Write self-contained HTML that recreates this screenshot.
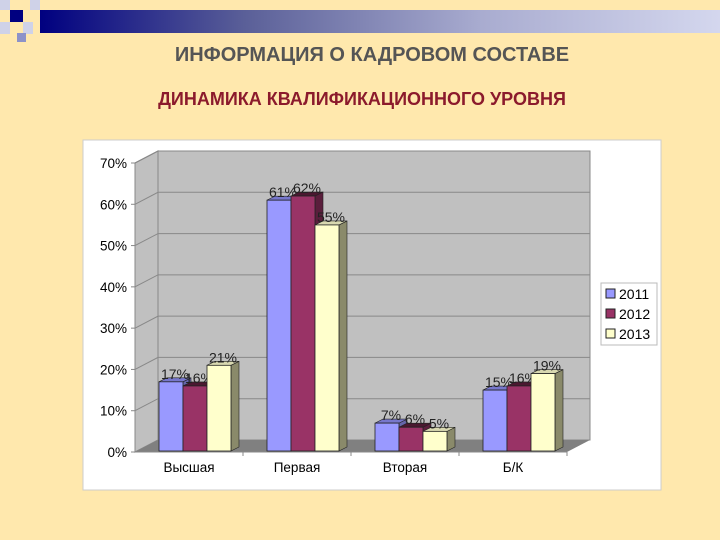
<!DOCTYPE html>
<html><head><meta charset="utf-8"><style>
body{margin:0;width:720px;height:540px;background:#ffe8ad;overflow:hidden;position:relative;font-family:"Liberation Sans",sans-serif}
.t{position:absolute;left:0;width:744px;text-align:center;font-weight:bold;white-space:nowrap}
</style></head><body>
<div style="position:absolute;left:40px;top:10px;width:680px;height:23px;background:linear-gradient(90deg,#000080,#5a5f98 30%,#a9acd0 65%,#d4d7ee)"></div>
<div style="position:absolute;left:10px;top:10px;width:13px;height:12px;background:#000080"></div>
<div style="position:absolute;left:0px;top:0px;width:10px;height:10px;background:#cfd2e8"></div>
<div style="position:absolute;left:30px;top:0px;width:10px;height:10px;background:#cfd2e8"></div>
<div style="position:absolute;left:0px;top:22px;width:10px;height:12px;background:#cfd2e8"></div>
<div style="position:absolute;left:23px;top:22px;width:10px;height:12px;background:#cfd2e8"></div>
<div style="position:absolute;left:17px;top:33px;width:9px;height:9px;background:#8d92c8"></div>
<div class="t" style="top:44px;font-size:20px;color:#555">ИНФОРМАЦИЯ О КАДРОВОМ СОСТАВЕ</div>
<div class="t" style="top:89px;left:-10px;font-size:18px;color:#8b1a2c">ДИНАМИКА КВАЛИФИКАЦИОННОГО УРОВНЯ</div>
<svg width="720" height="540" style="position:absolute;left:0;top:0" font-family="Liberation Sans, sans-serif">
<rect x="83" y="140" width="578" height="350" fill="#fff" stroke="#ccc"/>
<g id="g"></g>
</svg>
<script>
const categories=["Высшая","Первая","Вторая","Б/К"];
const years=["2011","2012","2013"];
const s2011=[17,61,7,15];
const s2012=[16,62,6,16];
const s2013=[21,55,5,19];
const ticks=[0,10,20,30,40,50,60,70];
const series=[s2011,s2012,s2013];
const fills=["#9999ff","#993366","#ffffcc"];
const sides=["#6666aa","#5a1e3c","#8a8a6a"];
const tops=["#7777cc","#4a1830","#d8d8b0"];
const X0=135,X1=567,Y0=452,PX=(452-163)/70,DX=23,DY=12;
const y=v=>Y0-v*PX;
const cw=(X1-X0)/categories.length;
const g=document.getElementById('g');
const NS="http://www.w3.org/2000/svg";
function el(t,a,txt){const e=document.createElementNS(NS,t);for(const k in a)e.setAttribute(k,a[k]);if(txt!=null)e.textContent=txt;g.appendChild(e);return e;}
let w=el('polygon',{points:`${X0},${y(70)} ${X0+DX},${y(70)-DY} ${X0+DX},${Y0-DY} ${X0},${Y0}`,fill:'#c0c0c0',stroke:'#888'});

w=el('rect',{x:X0+DX,y:y(70)-DY,width:X1-X0,height:70*PX,fill:'#c0c0c0',stroke:'#888'});

w=el('polygon',{points:`${X0},${Y0} ${X0+DX},${Y0-DY} ${X1+DX},${Y0-DY} ${X1},${Y0}`,fill:'#808080'});

ticks.forEach(t=>{
 if(t>0){const l=el('polyline',{points:`${X0},${y(t)} ${X0+DX},${y(t)-DY} ${X1+DX},${y(t)-DY}`,fill:'none',stroke:'#888'});
 }
 const tx=el('text',{x:X0-8,y:y(t)+5,'text-anchor':'end','font-size':13.5},t+'%');
 
 el('line',{x1:X0-4,x2:X0,y1:y(t),y2:y(t),stroke:'#888'});
});
el('line',{x1:X0,x2:X0,y1:y(70),y2:Y0,stroke:'#888'});
el('line',{x1:X0,x2:X1,y1:Y0,y2:Y0,stroke:'#888'});
categories.forEach((c,i)=>{
 const cx=X0+cw*(i+0.5);
 el('line',{x1:X0+cw*(i+1),x2:X0+cw*(i+1),y1:Y0,y2:Y0+4,stroke:'#888'});
 const lt=el('text',{x:cx,y:Y0+20,'text-anchor':'middle','font-size':13.5},c);
 
 series.forEach((s,j)=>{
  const bx=cx-30+24*j,bw=24,top=y(s[i]),d=8,dy=4;
  el('polygon',{points:`${bx+bw},${top} ${bx+bw+d},${top-dy} ${bx+bw+d},${Y0-1-dy} ${bx+bw},${Y0-1}`,fill:sides[j],stroke:'#222','stroke-width':0.6});
  el('polygon',{points:`${bx},${top} ${bx+d},${top-dy} ${bx+bw+d},${top-dy} ${bx+bw},${top}`,fill:tops[j],stroke:'#222','stroke-width':0.6});
  const b=el('rect',{x:bx,y:top,width:bw,height:Y0-1-top,fill:fills[j],stroke:'#222','stroke-width':0.8});
  
  
  const v=el('text',{x:bx+bw/2+4,y:top-3,'text-anchor':'middle','font-size':14,fill:'#222'},s[i]+'%');
  
 });
});
const lg=el('rect',{x:601,y:283,width:56,height:62,fill:'#fff',stroke:'#bbb'});

years.forEach((yr,j)=>{
 el('rect',{x:606,y:289+20*j,width:9,height:9,fill:fills[j],stroke:'#222'});
 const t=el('text',{x:619,y:299+20*j,'font-size':14},yr);
 
});
</script>
</body></html>
